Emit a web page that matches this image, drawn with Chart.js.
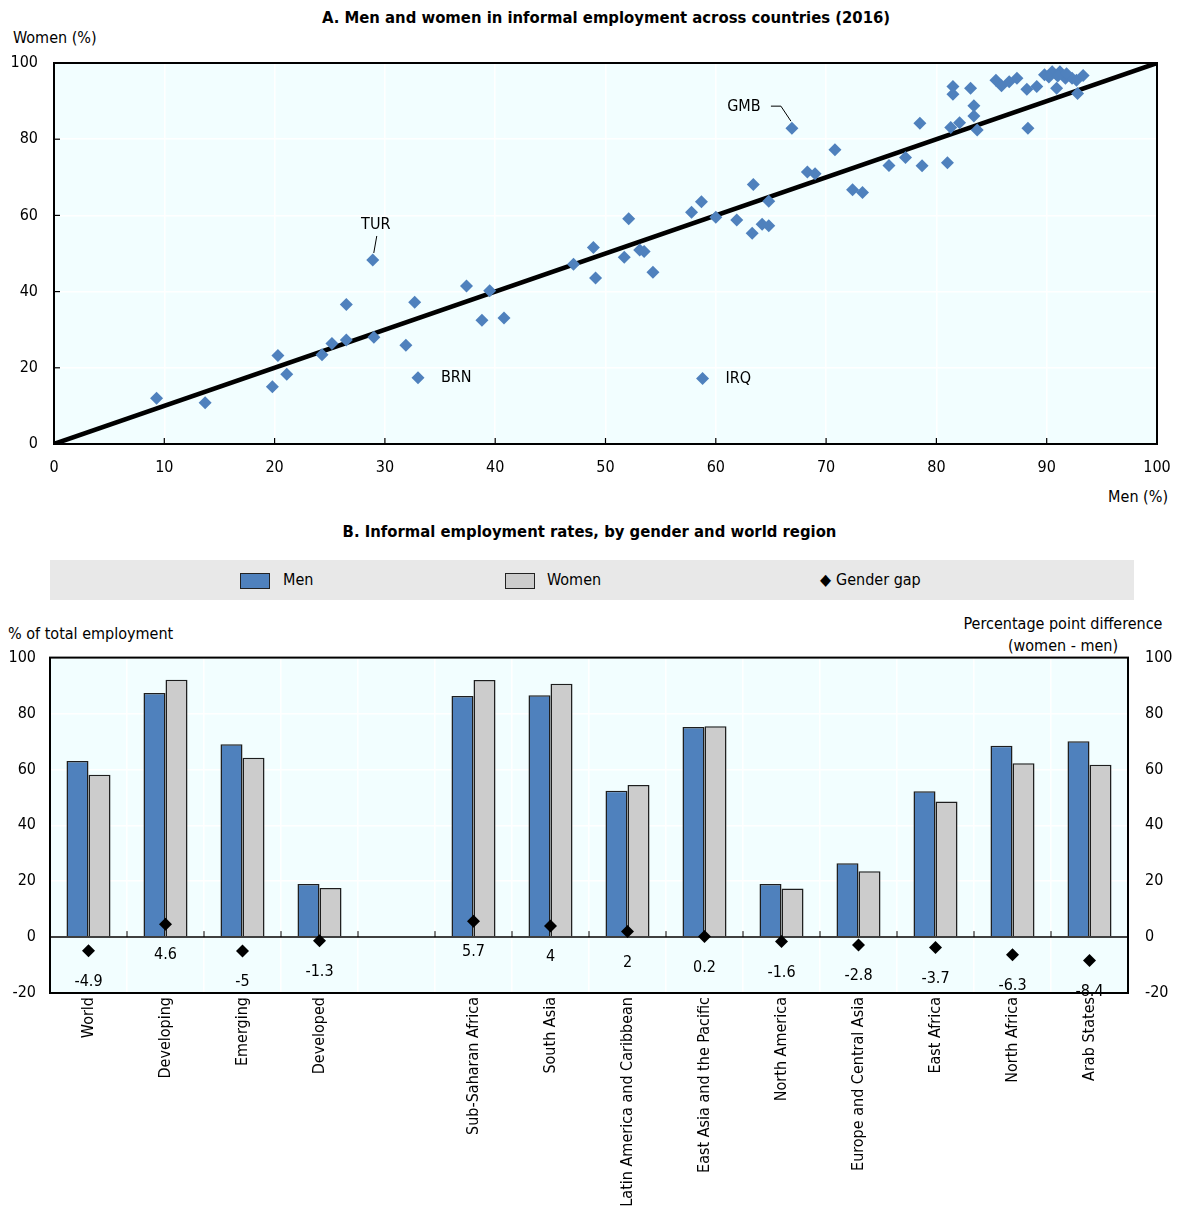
<!DOCTYPE html>
<html>
<head>
<meta charset="utf-8">
<script src="https://cdn.jsdelivr.net/npm/chart.js@4"></script>
<style>
  body { margin: 0; background: #fff; font-family: 'Liberation Sans Narrow', 'DejaVu Sans Condensed', 'Arial Narrow', sans-serif; color: #000; }
  #wrap { position: relative; width: 1179px; height: 1210px; overflow: hidden; }
  .t { position: absolute; font-size: 16px; line-height: 20px; white-space: nowrap; }
  .b { font-weight: bold; font-size: 16.5px; }
  canvas { position: absolute; }
  #legend { position: absolute; left: 50px; top: 560px; width: 1084px; height: 40px; background: #e8e8e8; }
  .box { position: absolute; top: 13px; width: 28px; height: 14px; border: 1.5px solid #222; }
</style>
</head>
<body>
<div id="wrap">
  <div class="t b" style="left:0;width:1212px;text-align:center;top:8px;">A. Men and women in informal employment across countries (2016)</div>
  <div class="t" style="left:13px;top:28px;">Women (%)</div>
  <div class="t" style="right:11px;top:487px;">Men (%)</div>
  <canvas id="chartA" width="1179" height="440" style="left:0;top:40px;"></canvas>

  <div class="t b" style="left:0;width:1179px;text-align:center;top:522px;">B. Informal employment rates, by gender and world region</div>
  <div id="legend">
    <div class="box" style="left:190px;background:#4f81bd;"></div>
    <div class="t" style="left:233px;top:10px;">Men</div>
    <div class="box" style="left:455px;background:#cccccc;"></div>
    <div class="t" style="left:497px;top:10px;">Women</div>
    <div class="t" style="left:770px;top:10px;">&#9670;</div>
    <div class="t" style="left:786px;top:10px;">Gender gap</div>
  </div>
  <div class="t" style="left:8px;top:624px;">% of total employment</div>
  <div class="t" style="left:943px;width:240px;text-align:center;top:613px;line-height:22px;">Percentage point difference<br>(women - men)</div>
  <canvas id="chartB" width="1179" height="579" style="left:0;top:631px;"></canvas>
</div>

<script>
// Panel A: informal employment, men (x) vs women (y), % by country
const menPct = [9.3, 13.7, 19.8, 20.3, 21.1, 24.3, 25.2, 26.5, 26.5, 28.9, 29.0, 31.9, 32.7, 33.0,
  37.4, 38.8, 39.5, 40.8, 47.1, 48.9, 49.1, 51.7, 52.1, 53.1, 53.5, 54.3, 57.8, 58.7, 58.8, 60.0,
  61.9, 63.3, 63.4, 64.2, 64.8, 64.8, 66.9, 68.3, 69.0, 70.8, 72.4, 73.3, 75.7, 77.2, 78.5, 78.7,
  81.0, 81.5, 81.5, 81.3, 82.1, 83.1, 83.4, 83.4, 83.7, 85.4, 85.9, 86.6, 87.3, 88.2, 89.1, 88.3,
  89.8, 90.5, 91.2, 90.9, 91.7, 92.3, 92.7, 93.3, 92.8, 90.2, 91.0, 91.8];
const womenPct = [12.0, 10.8, 15.0, 23.2, 18.3, 23.4, 26.4, 36.6, 27.3, 48.3, 28.0, 25.9, 37.2, 17.4,
  41.5, 32.5, 40.2, 33.1, 47.2, 51.6, 43.6, 49.0, 59.1, 50.9, 50.5, 45.1, 60.8, 63.6, 17.2, 59.5,
  58.8, 55.3, 68.1, 57.7, 57.3, 63.7, 82.9, 71.4, 70.9, 77.2, 66.7, 66.0, 73.1, 75.2, 84.2, 73.0,
  73.8, 93.8, 91.8, 83.1, 84.3, 93.4, 88.8, 86.1, 82.4, 95.5, 94.0, 95.1, 96.0, 93.1, 93.8, 82.9,
  96.9, 97.7, 97.7, 93.4, 96.0, 96.0, 95.5, 96.7, 92.0, 96.3, 96.6, 97.2];
const labelledCodes = ['TUR', 'BRN', 'GMB', 'IRQ'];
const labelledIdx = [9, 13, 36, 28];

// Panel B: informal employment rates by region
const regions = ['World', 'Developing', 'Emerging', 'Developed', '', 'Sub-Saharan Africa', 'South Asia',
  'Latin America and Caribbean', 'East Asia and the Pacific', 'North America', 'Europe and Central Asia',
  'East Africa', 'North Africa', 'Arab States'];
const menRate = [63.0, 87.3, 69.0, 19.0, null, 86.3, 86.5, 52.4, 75.2, 19.0, 26.4, 52.2, 68.5, 70.1];
const womenRate = [58.1, 92.1, 64.2, 17.6, null, 92.0, 90.6, 54.4, 75.4, 17.4, 23.6, 48.5, 62.2, 61.7];
const gap = [-4.9, 4.6, -5, -1.3, null, 5.7, 4, 2, 0.2, -1.6, -2.8, -3.7, -6.3, -8.4];

Chart.defaults.font.family = "'Liberation Sans Narrow', 'DejaVu Sans Condensed', 'Arial Narrow', sans-serif";
Chart.defaults.font.size = 16;
Chart.defaults.color = '#000';
Chart.defaults.animation = false;

const bgPlot = '#f2feff';

const frameA = {
  id: 'frameA',
  beforeDraw(c) {
    const a = c.chartArea, g = c.ctx;
    g.save(); g.fillStyle = bgPlot; g.fillRect(a.left, a.top, a.right - a.left, a.bottom - a.top); g.restore();
  },
  afterDraw(c) {
    const a = c.chartArea, g = c.ctx, xs = c.scales.x, ys = c.scales.y;
    g.save();
    g.strokeStyle = '#000'; g.lineWidth = 2;
    g.strokeRect(a.left, a.top, a.right - a.left, a.bottom - a.top);
    g.lineWidth = 1.2;
    xs.ticks.forEach(t => {
      const px = xs.getPixelForValue(t.value);
      g.beginPath(); g.moveTo(px, a.bottom); g.lineTo(px, a.bottom - 6); g.stroke();
    });
    ys.ticks.forEach(t => {
      const py = ys.getPixelForValue(t.value);
      g.beginPath(); g.moveTo(a.left, py); g.lineTo(a.left + 6, py); g.stroke();
    });
    // country labels
    g.font = "16px " + Chart.defaults.font.family;
    g.fillStyle = '#000'; g.textBaseline = 'middle';
    labelledCodes.forEach((code, k) => {
      const i = labelledIdx[k];
      const px = xs.getPixelForValue(menPct[i]), py = ys.getPixelForValue(womenPct[i]);
      g.lineWidth = 1;
      if (code === 'TUR') {
        g.textAlign = 'center'; g.fillText(code, px + 3, py - 35);
        g.beginPath(); g.moveTo(px + 4, py - 24); g.lineTo(px + 1, py - 7); g.stroke();
      } else if (code === 'GMB') {
        g.textAlign = 'center'; g.fillText(code, px - 48, py - 21);
        g.beginPath(); g.moveTo(px - 21, py - 22); g.lineTo(px - 11, py - 22); g.lineTo(px - 1, py - 7); g.stroke();
      } else {
        g.textAlign = 'left'; g.fillText(code, px + 23, py);
      }
    });
    g.restore();
  }
};

new Chart(document.getElementById('chartA'), {
  type: 'scatter',
  data: {
    datasets: [
      { data: menPct.map((m, i) => ({ x: m, y: womenPct[i] })), pointStyle: 'rectRot', pointRadius: 6.5,
        backgroundColor: '#4f81bd', borderColor: '#4f81bd', borderWidth: 0, order: 1 },
      { data: [{ x: 0, y: 0 }, { x: 100, y: 100 }], showLine: true, borderColor: '#000', borderWidth: 4.5,
        pointRadius: 0, order: 2 }
    ]
  },
  options: {
    responsive: false,
    layout: { padding: { top: 23, right: 22, left: 0, bottom: 0 } },
    plugins: { legend: { display: false }, tooltip: { enabled: false } },
    scales: {
      x: { type: 'linear', min: 0, max: 100, ticks: { stepSize: 10, padding: 14 },
        grid: { color: '#fff', lineWidth: 1.5, drawTicks: false }, border: { display: false },
        afterFit: s => { s.height = 36; s.paddingLeft = 0; s.paddingRight = 0; } },
      y: { type: 'linear', min: 0, max: 100, ticks: { stepSize: 20, padding: 16 },
        grid: { color: '#fff', lineWidth: 1.5, drawTicks: false }, border: { display: false },
        afterFit: s => { s.width = 54; s.paddingTop = 0; s.paddingBottom = 0; } }
    }
  },
  plugins: [frameA]
});

const frameB = {
  id: 'frameB',
  beforeDraw(c) {
    const a = c.chartArea, g = c.ctx;
    g.save(); g.fillStyle = bgPlot; g.fillRect(a.left, a.top, a.right - a.left, a.bottom - a.top); g.restore();
  },
  afterDatasetsDraw(c) {
    const a = c.chartArea, g = c.ctx, xs = c.scales.x, ys = c.scales.y;
    g.save();
    const y0 = ys.getPixelForValue(0);
    g.strokeStyle = '#000'; g.lineWidth = 1.5;
    g.beginPath(); g.moveTo(a.left, y0); g.lineTo(a.right, y0); g.stroke();
    g.lineWidth = 1;
    for (let i = 0; i <= regions.length; i++) {
      const px = xs.getPixelForValue(i - 0.5);
      g.beginPath(); g.moveTo(px, y0); g.lineTo(px, y0 - 6); g.stroke();
    }
    g.restore();
  },
  afterDraw(c) {
    const a = c.chartArea, g = c.ctx, xs = c.scales.x, ys = c.scales.y2;
    g.save();
    g.strokeStyle = '#000'; g.lineWidth = 2;
    g.strokeRect(a.left, a.top, a.right - a.left, a.bottom - a.top);
    g.font = "16px " + Chart.defaults.font.family;
    g.fillStyle = '#000'; g.textAlign = 'center'; g.textBaseline = 'middle';
    gap.forEach((v, i) => {
      if (v === null) return;
      g.fillText(String(v), xs.getPixelForValue(i), ys.getPixelForValue(v) + 31);
    });
    g.restore();
  }
};

new Chart(document.getElementById('chartB'), {
  type: 'bar',
  data: {
    labels: regions,
    datasets: [
      { label: 'Men', data: menRate, backgroundColor: '#4f81bd', borderColor: '#1e1e1e', borderWidth: 1.5,
        categoryPercentage: 0.572, barPercentage: 1, yAxisID: 'y', order: 2 },
      { label: 'Women', data: womenRate, backgroundColor: '#cccccc', borderColor: '#1e1e1e', borderWidth: 1.5,
        categoryPercentage: 0.572, barPercentage: 1, yAxisID: 'y', order: 2 },
      { label: 'Gender gap', type: 'line', data: gap, showLine: false, pointStyle: 'rectRot', pointRadius: 6.5,
        backgroundColor: '#000', borderColor: '#000', borderWidth: 0, yAxisID: 'y2', order: 1 }
    ]
  },
  options: {
    responsive: false,
    layout: { padding: { top: 8, right: 0, left: 0, bottom: 0 } },
    plugins: { legend: { display: false }, tooltip: { enabled: false } },
    scales: {
      x: { ticks: { autoSkip: false, maxRotation: 90, minRotation: 90, padding: 4 },
        grid: { color: '#fff', lineWidth: 1.5, drawTicks: false, offset: true }, border: { display: false },
        afterFit: s => { s.height = 217; } },
      y: { position: 'left', min: -20, max: 100, ticks: { stepSize: 20, padding: 14 },
        grid: { color: '#fff', lineWidth: 1.5, drawTicks: false }, border: { display: false },
        afterFit: s => { s.width = 50; } },
      y2: { position: 'right', min: -20, max: 100, ticks: { stepSize: 20, padding: 17 },
        grid: { display: false, drawTicks: false }, border: { display: false },
        afterFit: s => { s.width = 51; } }
    }
  },
  plugins: [frameB]
});
</script>
</body>
</html>
